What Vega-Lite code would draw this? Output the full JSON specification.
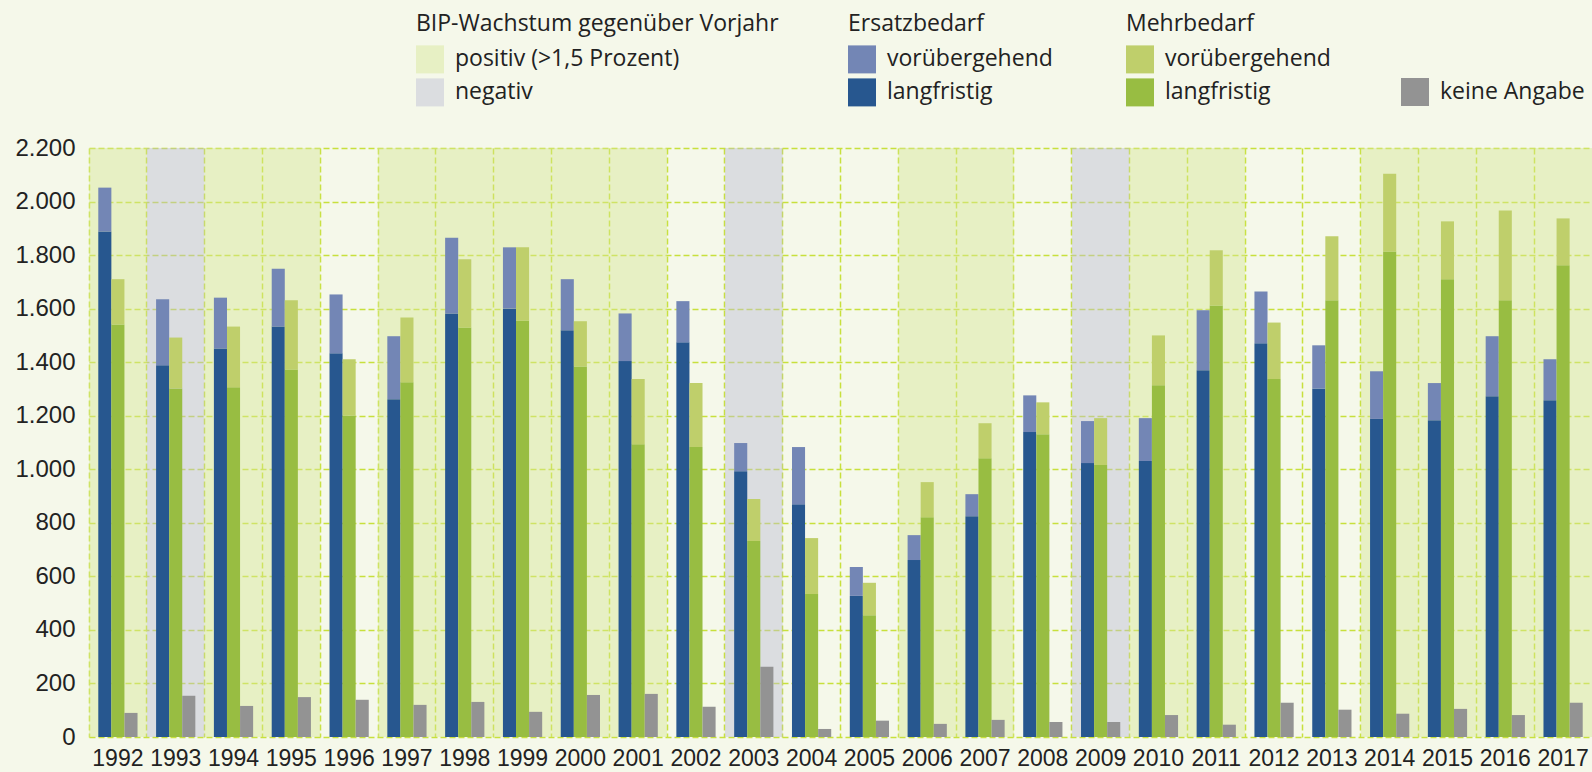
{
  "$schema": "https://vega.github.io/schema/vega-lite/v6.json",
  "width": 1503,
  "height": 589,
  "autosize": {"type": "none"},
  "padding": {"left": 89, "top": 148, "right": 0, "bottom": 35},
  "background": "#f5f8ea",
  "config": {
    "view": {"stroke": null},
    "legend": {
      "symbolType": "square",
      "symbolSize": 784,
      "symbolStrokeWidth": 0,
      "labelFont": "Open Sans",
      "labelFontSize": 23,
      "labelColor": "#222222",
      "titleFont": "Open Sans",
      "titleFontSize": 23,
      "titleFontWeight": "normal",
      "titleColor": "#222222",
      "titlePadding": 9,
      "rowPadding": 5,
      "labelOffset": 11,
      "padding": 0,
      "titleLimit": 600,
      "labelLimit": 400
    }
  },
  "datasets": {
    "bip": [
      {"Jahr": 1992, "BIP": "positiv (>1,5 Prozent)"},
      {"Jahr": 1993, "BIP": "negativ"},
      {"Jahr": 1994, "BIP": "positiv (>1,5 Prozent)"},
      {"Jahr": 1995, "BIP": "positiv (>1,5 Prozent)"},
      {"Jahr": 1997, "BIP": "positiv (>1,5 Prozent)"},
      {"Jahr": 1998, "BIP": "positiv (>1,5 Prozent)"},
      {"Jahr": 1999, "BIP": "positiv (>1,5 Prozent)"},
      {"Jahr": 2000, "BIP": "positiv (>1,5 Prozent)"},
      {"Jahr": 2001, "BIP": "positiv (>1,5 Prozent)"},
      {"Jahr": 2003, "BIP": "negativ"},
      {"Jahr": 2006, "BIP": "positiv (>1,5 Prozent)"},
      {"Jahr": 2007, "BIP": "positiv (>1,5 Prozent)"},
      {"Jahr": 2009, "BIP": "negativ"},
      {"Jahr": 2010, "BIP": "positiv (>1,5 Prozent)"},
      {"Jahr": 2011, "BIP": "positiv (>1,5 Prozent)"},
      {"Jahr": 2014, "BIP": "positiv (>1,5 Prozent)"},
      {"Jahr": 2015, "BIP": "positiv (>1,5 Prozent)"},
      {"Jahr": 2016, "BIP": "positiv (>1,5 Prozent)"},
      {"Jahr": 2017, "BIP": "positiv (>1,5 Prozent)"}
    ],
    "bars": [
      {"Jahr": 1992, "Gruppe": "Ersatzbedarf", "Art": "langfristig", "Wert": 1888},
      {"Jahr": 1992, "Gruppe": "Ersatzbedarf", "Art": "vorübergehend", "Wert": 164},
      {"Jahr": 1992, "Gruppe": "Mehrbedarf", "Art": "langfristig", "Wert": 1541},
      {"Jahr": 1992, "Gruppe": "Mehrbedarf", "Art": "vorübergehend", "Wert": 169},
      {"Jahr": 1992, "Gruppe": "keine Angabe", "Art": "keine Angabe", "Wert": 90},
      {"Jahr": 1993, "Gruppe": "Ersatzbedarf", "Art": "langfristig", "Wert": 1389},
      {"Jahr": 1993, "Gruppe": "Ersatzbedarf", "Art": "vorübergehend", "Wert": 246},
      {"Jahr": 1993, "Gruppe": "Mehrbedarf", "Art": "langfristig", "Wert": 1302},
      {"Jahr": 1993, "Gruppe": "Mehrbedarf", "Art": "vorübergehend", "Wert": 190},
      {"Jahr": 1993, "Gruppe": "keine Angabe", "Art": "keine Angabe", "Wert": 154},
      {"Jahr": 1994, "Gruppe": "Ersatzbedarf", "Art": "langfristig", "Wert": 1451},
      {"Jahr": 1994, "Gruppe": "Ersatzbedarf", "Art": "vorübergehend", "Wert": 190},
      {"Jahr": 1994, "Gruppe": "Mehrbedarf", "Art": "langfristig", "Wert": 1306},
      {"Jahr": 1994, "Gruppe": "Mehrbedarf", "Art": "vorübergehend", "Wert": 227},
      {"Jahr": 1994, "Gruppe": "keine Angabe", "Art": "keine Angabe", "Wert": 116},
      {"Jahr": 1995, "Gruppe": "Ersatzbedarf", "Art": "langfristig", "Wert": 1533},
      {"Jahr": 1995, "Gruppe": "Ersatzbedarf", "Art": "vorübergehend", "Wert": 216},
      {"Jahr": 1995, "Gruppe": "Mehrbedarf", "Art": "langfristig", "Wert": 1373},
      {"Jahr": 1995, "Gruppe": "Mehrbedarf", "Art": "vorübergehend", "Wert": 258},
      {"Jahr": 1995, "Gruppe": "keine Angabe", "Art": "keine Angabe", "Wert": 149},
      {"Jahr": 1996, "Gruppe": "Ersatzbedarf", "Art": "langfristig", "Wert": 1433},
      {"Jahr": 1996, "Gruppe": "Ersatzbedarf", "Art": "vorübergehend", "Wert": 220},
      {"Jahr": 1996, "Gruppe": "Mehrbedarf", "Art": "langfristig", "Wert": 1201},
      {"Jahr": 1996, "Gruppe": "Mehrbedarf", "Art": "vorübergehend", "Wert": 210},
      {"Jahr": 1996, "Gruppe": "keine Angabe", "Art": "keine Angabe", "Wert": 139},
      {"Jahr": 1997, "Gruppe": "Ersatzbedarf", "Art": "langfristig", "Wert": 1262},
      {"Jahr": 1997, "Gruppe": "Ersatzbedarf", "Art": "vorübergehend", "Wert": 235},
      {"Jahr": 1997, "Gruppe": "Mehrbedarf", "Art": "langfristig", "Wert": 1325},
      {"Jahr": 1997, "Gruppe": "Mehrbedarf", "Art": "vorübergehend", "Wert": 242},
      {"Jahr": 1997, "Gruppe": "keine Angabe", "Art": "keine Angabe", "Wert": 120},
      {"Jahr": 1998, "Gruppe": "Ersatzbedarf", "Art": "langfristig", "Wert": 1582},
      {"Jahr": 1998, "Gruppe": "Ersatzbedarf", "Art": "vorübergehend", "Wert": 283},
      {"Jahr": 1998, "Gruppe": "Mehrbedarf", "Art": "langfristig", "Wert": 1530},
      {"Jahr": 1998, "Gruppe": "Mehrbedarf", "Art": "vorübergehend", "Wert": 254},
      {"Jahr": 1998, "Gruppe": "keine Angabe", "Art": "keine Angabe", "Wert": 131},
      {"Jahr": 1999, "Gruppe": "Ersatzbedarf", "Art": "langfristig", "Wert": 1600},
      {"Jahr": 1999, "Gruppe": "Ersatzbedarf", "Art": "vorübergehend", "Wert": 229},
      {"Jahr": 1999, "Gruppe": "Mehrbedarf", "Art": "langfristig", "Wert": 1556},
      {"Jahr": 1999, "Gruppe": "Mehrbedarf", "Art": "vorübergehend", "Wert": 273},
      {"Jahr": 1999, "Gruppe": "keine Angabe", "Art": "keine Angabe", "Wert": 94},
      {"Jahr": 2000, "Gruppe": "Ersatzbedarf", "Art": "langfristig", "Wert": 1519},
      {"Jahr": 2000, "Gruppe": "Ersatzbedarf", "Art": "vorübergehend", "Wert": 191},
      {"Jahr": 2000, "Gruppe": "Mehrbedarf", "Art": "langfristig", "Wert": 1384},
      {"Jahr": 2000, "Gruppe": "Mehrbedarf", "Art": "vorübergehend", "Wert": 169},
      {"Jahr": 2000, "Gruppe": "keine Angabe", "Art": "keine Angabe", "Wert": 157},
      {"Jahr": 2001, "Gruppe": "Ersatzbedarf", "Art": "langfristig", "Wert": 1404},
      {"Jahr": 2001, "Gruppe": "Ersatzbedarf", "Art": "vorübergehend", "Wert": 178},
      {"Jahr": 2001, "Gruppe": "Mehrbedarf", "Art": "langfristig", "Wert": 1093},
      {"Jahr": 2001, "Gruppe": "Mehrbedarf", "Art": "vorübergehend", "Wert": 244},
      {"Jahr": 2001, "Gruppe": "keine Angabe", "Art": "keine Angabe", "Wert": 161},
      {"Jahr": 2002, "Gruppe": "Ersatzbedarf", "Art": "langfristig", "Wert": 1474},
      {"Jahr": 2002, "Gruppe": "Ersatzbedarf", "Art": "vorübergehend", "Wert": 154},
      {"Jahr": 2002, "Gruppe": "Mehrbedarf", "Art": "langfristig", "Wert": 1083},
      {"Jahr": 2002, "Gruppe": "Mehrbedarf", "Art": "vorübergehend", "Wert": 239},
      {"Jahr": 2002, "Gruppe": "keine Angabe", "Art": "keine Angabe", "Wert": 113},
      {"Jahr": 2003, "Gruppe": "Ersatzbedarf", "Art": "langfristig", "Wert": 993},
      {"Jahr": 2003, "Gruppe": "Ersatzbedarf", "Art": "vorübergehend", "Wert": 105},
      {"Jahr": 2003, "Gruppe": "Mehrbedarf", "Art": "langfristig", "Wert": 732},
      {"Jahr": 2003, "Gruppe": "Mehrbedarf", "Art": "vorübergehend", "Wert": 157},
      {"Jahr": 2003, "Gruppe": "keine Angabe", "Art": "keine Angabe", "Wert": 262},
      {"Jahr": 2004, "Gruppe": "Ersatzbedarf", "Art": "langfristig", "Wert": 869},
      {"Jahr": 2004, "Gruppe": "Ersatzbedarf", "Art": "vorübergehend", "Wert": 214},
      {"Jahr": 2004, "Gruppe": "Mehrbedarf", "Art": "langfristig", "Wert": 534},
      {"Jahr": 2004, "Gruppe": "Mehrbedarf", "Art": "vorübergehend", "Wert": 209},
      {"Jahr": 2004, "Gruppe": "keine Angabe", "Art": "keine Angabe", "Wert": 30},
      {"Jahr": 2005, "Gruppe": "Ersatzbedarf", "Art": "langfristig", "Wert": 527},
      {"Jahr": 2005, "Gruppe": "Ersatzbedarf", "Art": "vorübergehend", "Wert": 108},
      {"Jahr": 2005, "Gruppe": "Mehrbedarf", "Art": "langfristig", "Wert": 455},
      {"Jahr": 2005, "Gruppe": "Mehrbedarf", "Art": "vorübergehend", "Wert": 121},
      {"Jahr": 2005, "Gruppe": "keine Angabe", "Art": "keine Angabe", "Wert": 61},
      {"Jahr": 2006, "Gruppe": "Ersatzbedarf", "Art": "langfristig", "Wert": 661},
      {"Jahr": 2006, "Gruppe": "Ersatzbedarf", "Art": "vorübergehend", "Wert": 93},
      {"Jahr": 2006, "Gruppe": "Mehrbedarf", "Art": "langfristig", "Wert": 821},
      {"Jahr": 2006, "Gruppe": "Mehrbedarf", "Art": "vorübergehend", "Wert": 131},
      {"Jahr": 2006, "Gruppe": "keine Angabe", "Art": "keine Angabe", "Wert": 49},
      {"Jahr": 2007, "Gruppe": "Ersatzbedarf", "Art": "langfristig", "Wert": 825},
      {"Jahr": 2007, "Gruppe": "Ersatzbedarf", "Art": "vorübergehend", "Wert": 82},
      {"Jahr": 2007, "Gruppe": "Mehrbedarf", "Art": "langfristig", "Wert": 1041},
      {"Jahr": 2007, "Gruppe": "Mehrbedarf", "Art": "vorübergehend", "Wert": 131},
      {"Jahr": 2007, "Gruppe": "keine Angabe", "Art": "keine Angabe", "Wert": 64},
      {"Jahr": 2008, "Gruppe": "Ersatzbedarf", "Art": "langfristig", "Wert": 1139},
      {"Jahr": 2008, "Gruppe": "Ersatzbedarf", "Art": "vorübergehend", "Wert": 137},
      {"Jahr": 2008, "Gruppe": "Mehrbedarf", "Art": "langfristig", "Wert": 1131},
      {"Jahr": 2008, "Gruppe": "Mehrbedarf", "Art": "vorübergehend", "Wert": 119},
      {"Jahr": 2008, "Gruppe": "keine Angabe", "Art": "keine Angabe", "Wert": 56},
      {"Jahr": 2009, "Gruppe": "Ersatzbedarf", "Art": "langfristig", "Wert": 1023},
      {"Jahr": 2009, "Gruppe": "Ersatzbedarf", "Art": "vorübergehend", "Wert": 157},
      {"Jahr": 2009, "Gruppe": "Mehrbedarf", "Art": "langfristig", "Wert": 1016},
      {"Jahr": 2009, "Gruppe": "Mehrbedarf", "Art": "vorübergehend", "Wert": 175},
      {"Jahr": 2009, "Gruppe": "keine Angabe", "Art": "keine Angabe", "Wert": 56},
      {"Jahr": 2010, "Gruppe": "Ersatzbedarf", "Art": "langfristig", "Wert": 1031},
      {"Jahr": 2010, "Gruppe": "Ersatzbedarf", "Art": "vorübergehend", "Wert": 160},
      {"Jahr": 2010, "Gruppe": "Mehrbedarf", "Art": "langfristig", "Wert": 1314},
      {"Jahr": 2010, "Gruppe": "Mehrbedarf", "Art": "vorübergehend", "Wert": 186},
      {"Jahr": 2010, "Gruppe": "keine Angabe", "Art": "keine Angabe", "Wert": 82},
      {"Jahr": 2011, "Gruppe": "Ersatzbedarf", "Art": "langfristig", "Wert": 1370},
      {"Jahr": 2011, "Gruppe": "Ersatzbedarf", "Art": "vorübergehend", "Wert": 224},
      {"Jahr": 2011, "Gruppe": "Mehrbedarf", "Art": "langfristig", "Wert": 1612},
      {"Jahr": 2011, "Gruppe": "Mehrbedarf", "Art": "vorübergehend", "Wert": 206},
      {"Jahr": 2011, "Gruppe": "keine Angabe", "Art": "keine Angabe", "Wert": 46},
      {"Jahr": 2012, "Gruppe": "Ersatzbedarf", "Art": "langfristig", "Wert": 1471},
      {"Jahr": 2012, "Gruppe": "Ersatzbedarf", "Art": "vorübergehend", "Wert": 193},
      {"Jahr": 2012, "Gruppe": "Mehrbedarf", "Art": "langfristig", "Wert": 1337},
      {"Jahr": 2012, "Gruppe": "Mehrbedarf", "Art": "vorübergehend", "Wert": 211},
      {"Jahr": 2012, "Gruppe": "keine Angabe", "Art": "keine Angabe", "Wert": 128},
      {"Jahr": 2013, "Gruppe": "Ersatzbedarf", "Art": "langfristig", "Wert": 1302},
      {"Jahr": 2013, "Gruppe": "Ersatzbedarf", "Art": "vorübergehend", "Wert": 161},
      {"Jahr": 2013, "Gruppe": "Mehrbedarf", "Art": "langfristig", "Wert": 1631},
      {"Jahr": 2013, "Gruppe": "Mehrbedarf", "Art": "vorübergehend", "Wert": 239},
      {"Jahr": 2013, "Gruppe": "keine Angabe", "Art": "keine Angabe", "Wert": 102},
      {"Jahr": 2014, "Gruppe": "Ersatzbedarf", "Art": "langfristig", "Wert": 1188},
      {"Jahr": 2014, "Gruppe": "Ersatzbedarf", "Art": "vorübergehend", "Wert": 178},
      {"Jahr": 2014, "Gruppe": "Mehrbedarf", "Art": "langfristig", "Wert": 1813},
      {"Jahr": 2014, "Gruppe": "Mehrbedarf", "Art": "vorübergehend", "Wert": 291},
      {"Jahr": 2014, "Gruppe": "keine Angabe", "Art": "keine Angabe", "Wert": 87},
      {"Jahr": 2015, "Gruppe": "Ersatzbedarf", "Art": "langfristig", "Wert": 1183},
      {"Jahr": 2015, "Gruppe": "Ersatzbedarf", "Art": "vorübergehend", "Wert": 139},
      {"Jahr": 2015, "Gruppe": "Mehrbedarf", "Art": "langfristig", "Wert": 1710},
      {"Jahr": 2015, "Gruppe": "Mehrbedarf", "Art": "vorübergehend", "Wert": 216},
      {"Jahr": 2015, "Gruppe": "keine Angabe", "Art": "keine Angabe", "Wert": 105},
      {"Jahr": 2016, "Gruppe": "Ersatzbedarf", "Art": "langfristig", "Wert": 1273},
      {"Jahr": 2016, "Gruppe": "Ersatzbedarf", "Art": "vorübergehend", "Wert": 224},
      {"Jahr": 2016, "Gruppe": "Mehrbedarf", "Art": "langfristig", "Wert": 1631},
      {"Jahr": 2016, "Gruppe": "Mehrbedarf", "Art": "vorübergehend", "Wert": 336},
      {"Jahr": 2016, "Gruppe": "keine Angabe", "Art": "keine Angabe", "Wert": 82},
      {"Jahr": 2017, "Gruppe": "Ersatzbedarf", "Art": "langfristig", "Wert": 1258},
      {"Jahr": 2017, "Gruppe": "Ersatzbedarf", "Art": "vorübergehend", "Wert": 153},
      {"Jahr": 2017, "Gruppe": "Mehrbedarf", "Art": "langfristig", "Wert": 1762},
      {"Jahr": 2017, "Gruppe": "Mehrbedarf", "Art": "vorübergehend", "Wert": 175},
      {"Jahr": 2017, "Gruppe": "keine Angabe", "Art": "keine Angabe", "Wert": 128}
    ]
  },
  "layer": [
    {
      "data": {"name": "bip"},
      "mark": {"type": "bar", "opacity": 0.45},
      "encoding": {
        "x": {
          "field": "Jahr",
          "type": "ordinal",
          "scale": {"paddingInner": 0, "paddingOuter": 0},
          "axis": {
            "title": null,
            "labelAngle": 0,
            "ticks": false,
            "domain": false,
            "grid": true,
            "bandPosition": 0,
            "gridColor": "#c8e03c",
            "gridWidth": 1.5,
            "gridDash": [6, 3],
            "labelFont": "Liberation Sans",
            "labelFontSize": 23,
            "labelColor": "#222222",
            "labelPadding": 10
          }
        },
        "y": {
          "datum": 2200,
          "type": "quantitative",
          "scale": {"domain": [0, 2200], "nice": false},
          "axis": {
            "title": null,
            "values": [0, 200, 400, 600, 800, 1000, 1200, 1400, 1600, 1800, 2000, 2200],
            "labelExpr": "replace(format(datum.value, ','), ',', '.')",
            "ticks": false,
            "domain": false,
            "grid": true,
            "gridColor": "#c8e03c",
            "gridWidth": 1.5,
            "gridDash": [6, 3],
            "labelFont": "Liberation Sans",
            "labelFontSize": 24,
            "labelColor": "#222222",
            "labelPadding": 14
          }
        },
        "y2": {"datum": 0},
        "color": {
          "field": "BIP",
          "type": "nominal",
          "scale": {"domain": ["positiv (>1,5 Prozent)", "negativ"], "range": ["#d8e696", "#bdbcd4"]},
          "legend": {"title": "BIP-Wachstum gegenüber Vorjahr", "orient": "none", "legendX": 327, "legendY": -134.6, "symbolOpacity": 0.45}
        }
      }
    },
    {
      "data": {"name": "bars"},
      "transform": [{"filter": "datum.Gruppe === 'Ersatzbedarf'"}],
      "mark": {"type": "bar"},
      "encoding": {
        "x": {"field": "Jahr", "type": "ordinal"},
        "xOffset": {"field": "Gruppe", "type": "nominal", "scale": {"domain": ["Ersatzbedarf", "Mehrbedarf", "keine Angabe"], "paddingInner": 0, "paddingOuter": 0.71}},
        "y": {"field": "Wert", "type": "quantitative", "stack": "zero"},
        "color": {
          "field": "Art",
          "type": "nominal",
          "scale": {"domain": ["vorübergehend", "langfristig"], "range": ["#7386b5", "#27578f"]},
          "legend": {"title": "Ersatzbedarf", "orient": "none", "legendX": 759, "legendY": -134.6}
        },
        "order": {"field": "Art", "sort": "ascending"}
      }
    },
    {
      "data": {"name": "bars"},
      "transform": [{"filter": "datum.Gruppe === 'Mehrbedarf'"}],
      "mark": {"type": "bar"},
      "encoding": {
        "x": {"field": "Jahr", "type": "ordinal"},
        "xOffset": {"field": "Gruppe", "type": "nominal"},
        "y": {"field": "Wert", "type": "quantitative", "stack": "zero"},
        "color": {
          "field": "Art",
          "type": "nominal",
          "scale": {"domain": ["vorübergehend", "langfristig"], "range": ["#bfcf6b", "#98bd42"]},
          "legend": {"title": "Mehrbedarf", "orient": "none", "legendX": 1037, "legendY": -134.6}
        },
        "order": {"field": "Art", "sort": "ascending"}
      }
    },
    {
      "data": {"name": "bars"},
      "transform": [{"filter": "datum.Gruppe === 'keine Angabe'"}],
      "mark": {"type": "bar"},
      "encoding": {
        "x": {"field": "Jahr", "type": "ordinal"},
        "xOffset": {"field": "Gruppe", "type": "nominal"},
        "y": {"field": "Wert", "type": "quantitative"},
        "color": {
          "field": "Art",
          "type": "nominal",
          "scale": {"domain": ["keine Angabe"], "range": ["#939393"]},
          "legend": {"title": null, "orient": "none", "legendX": 1312, "legendY": -70}
        }
      }
    }
  ],
  "resolve": {"scale": {"color": "independent"}}
}
